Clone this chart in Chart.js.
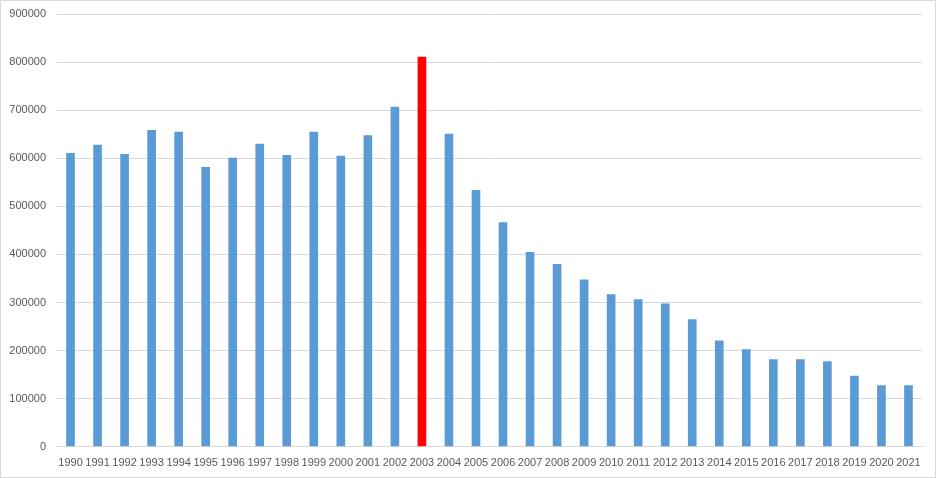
<!DOCTYPE html>
<html>
<head>
<meta charset="utf-8">
<script src="https://cdn.jsdelivr.net/npm/chart.js@4"></script>
<style>
  html, body { margin: 0; padding: 0; background: #fff; }
  #wrap { width: 936px; height: 478px; box-sizing: border-box; border: 1px solid #d9d9d9; position: relative; }
  canvas { display: block; }
</style>
</head>
<body>
<div id="wrap"><canvas id="chart" width="934" height="476"></canvas></div>
<script>
var years = ['1990','1991','1992','1993','1994','1995','1996','1997','1998','1999','2000',
  '2001','2002','2003','2004','2005','2006','2007','2008','2009','2010',
  '2011','2012','2013','2014','2015','2016','2017','2018','2019','2020','2021'];
var values = [611000, 628000, 609000, 659000, 655000, 582000, 601000, 630000, 607000, 655000, 605000,
  648000, 707000, 811000, 651000, 534000, 467000, 405000, 380000, 348000, 317000,
  307000, 298000, 265000, 221000, 203000, 182000, 182000, 178000, 148000, 128000, 128000];
var highlightYear = '2003';

var barColors = years.map(function (y) {
  return y === highlightYear ? '#ff0000' : '#5b9bd5';
});

var ctx = document.getElementById('chart');

new Chart(ctx, {
  type: 'bar',
  data: {
    labels: years,
    datasets: [{
      data: values,
      backgroundColor: barColors,
      borderWidth: 0,
      categoryPercentage: 1,
      barPercentage: 0.32
    }]
  },
  options: {
    responsive: false,
    animation: false,
    layout: { padding: { top: 13, right: 13, bottom: 5, left: 0 } },
    plugins: { legend: { display: false }, tooltip: { enabled: false } },
    scales: {
      x: {
        grid: { display: false },
        border: { display: true, color: '#d9d9d9' },
        ticks: {
          autoSkip: false, maxRotation: 0, minRotation: 0,
          color: '#595959', font: { family: 'Liberation Sans', size: 11 }, padding: 2
        }
      },
      y: {
        min: 0, max: 900000,
        border: { display: false },
        grid: { color: '#d9d9d9', drawTicks: false },
        ticks: {
          stepSize: 100000,
          color: '#595959', font: { family: 'Liberation Sans', size: 11 }, padding: 11,
          callback: function (value) { return String(value); }
        },
        afterFit: function (scale) {
          scale.width = 56;
          scale.paddingTop = 0;
          scale.paddingBottom = 0;
        }
      }
    }
  }
});
</script>
</body>
</html>
